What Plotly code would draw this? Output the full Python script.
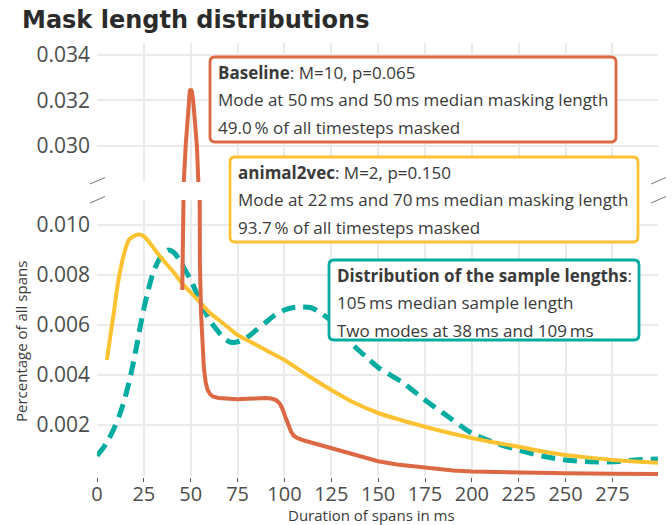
import plotly.graph_objects as go

# ---- data: share of spans (y) per span duration in ms (x) ----
baseline_ms = [45.5, 45.6, 46.0, 46.3, 47.3, 48.2, 49.0, 49.5, 50.0, 50.6, 51.3, 52.3, 53.3, 54.1,
               54.4, 54.6, 54.9, 55.5, 56.2, 57.0, 58.0, 59.0, 60.5, 62, 65, 70, 75, 80, 85, 90,
               93, 95.5, 97.5, 99, 100.5, 102, 103.5, 105, 107, 110, 115, 120, 125, 130, 140,
               150, 160, 175, 190, 200, 225, 250, 275, 299.3]
baseline_pct = [0.0074, 0.0110, 0.0200, 0.0284, 0.0300, 0.0310, 0.0320, 0.0324, 0.0325, 0.0324,
                0.0320, 0.0310, 0.0300, 0.0284, 0.0200, 0.0110, 0.0085, 0.0065, 0.0052, 0.0043,
                0.0037, 0.0034, 0.00322, 0.00313, 0.00308, 0.00305, 0.00303, 0.00305, 0.00307,
                0.00308, 0.00306, 0.00300, 0.00286, 0.00264, 0.00232, 0.00200, 0.00174, 0.00157,
                0.00147, 0.00139, 0.00128, 0.00118, 0.00107, 0.00096, 0.00075, 0.00055, 0.00042,
                0.00028, 0.00018, 0.00014, 0.00009, 0.00007, 0.00005, 0.00004]

a2v_ms = [5.3, 7, 9, 11, 13, 15, 17, 19.5, 22, 25, 29, 33, 37, 41, 45, 50, 55, 60, 65, 70, 75,
          80, 90, 100, 110, 125, 137, 150, 162, 175, 187, 200, 212, 225, 237, 250, 262, 275,
          287, 299.3]
a2v_pct = [0.0046, 0.0055, 0.0065, 0.0076, 0.0084, 0.0090, 0.0094, 0.00955, 0.00962, 0.00955,
           0.0092, 0.0088, 0.00845, 0.0081, 0.0077, 0.0073, 0.0069, 0.0065, 0.0062, 0.0059,
           0.0056, 0.0054, 0.0050, 0.0046, 0.0041, 0.0034, 0.0029, 0.00248, 0.0022, 0.00193,
           0.0017, 0.00148, 0.0013, 0.00113, 0.00095, 0.0008, 0.0007, 0.0006, 0.00054, 0.00049]

sample_ms = [0, 3, 6, 9, 12, 15, 18, 21, 24, 27, 30, 33, 36, 38, 41, 44, 47, 50, 53, 56, 60, 64,
             68, 72, 76, 80, 85, 90, 95, 100, 105, 109, 114, 119, 126, 132, 138, 144, 150, 163,
             175, 188, 200, 213, 225, 238, 250, 263, 275, 287, 299.3]
sample_pct = [0.00078, 0.00105, 0.0014, 0.00185, 0.0024, 0.0031, 0.0040, 0.0051, 0.0063, 0.0073,
              0.0081, 0.0086, 0.0089, 0.0090, 0.0089, 0.0086, 0.0082, 0.0078, 0.0073, 0.0068,
              0.0062, 0.0058, 0.00545, 0.0053, 0.00535, 0.0055, 0.0058, 0.0061, 0.0064, 0.0066,
              0.0067, 0.00672, 0.0067, 0.0065, 0.0061, 0.0056, 0.0051, 0.0047, 0.0043, 0.0037,
              0.0030, 0.0023, 0.00167, 0.00127, 0.0010, 0.00075, 0.0006, 0.00053, 0.00053,
              0.0006, 0.00064]

x_ticks = [0, 25, 50, 75, 100, 125, 150, 175, 200, 225, 250, 275]
y_ticks_low = [0.002, 0.004, 0.006, 0.008, 0.010]
y_ticks_high = [0.030, 0.032, 0.034]

ORANGE = "#dd6844"
YELLOW = "#fcc232"
TEAL = "#00aba0"
FONT = "Open Sans"
TXT = "#3a3a3a"

# ---- layout geometry (pixels) ----
W, H = 672, 525
L, R, T, B = 97, 14, 43, 48
PW, PH = W - L - R, H - T - B


def px(xp):
    return (xp - L) / PW


def py(yp):
    return (H - B - yp) / PH


fig = go.Figure()

series = [
    (sample_ms, sample_pct, TEAL, 5, "14px,8px", "spline"),
    (a2v_ms, a2v_pct, YELLOW, 4, "solid", "spline"),
    (baseline_ms, baseline_pct, ORANGE, 4, "solid", "linear"),
]
# every series is drawn in both halves of the broken y axis
for xa, ya in (("x", "y"), ("x2", "y2")):
    for xs, ys, col, w, dash, shape in series:
        fig.add_trace(go.Scatter(
            x=xs, y=ys, mode="lines", xaxis=xa, yaxis=ya, showlegend=False,
            line=dict(color=col, width=w, dash=dash, shape=shape, smoothing=0.8),
            hoverinfo="skip"))

grid = dict(showgrid=True, gridcolor="#ebebeb", gridwidth=1.8, zeroline=False, showline=False)
tickfont = dict(family=FONT, size=21, color="#4d4d4d")

fig.update_layout(
    width=W, height=H,
    margin=dict(l=L, r=R, t=T, b=B),
    paper_bgcolor="white", plot_bgcolor="white",
    font=dict(family=FONT, color=TXT),
    title=dict(text="<b>Mask length distributions</b>",
               font=dict(family="DejaVu Sans", size=24, color="#2b2b2b"),
               xref="container", x=22 / W, xanchor="left", yref="container", y=1 - 20 / H,
               yanchor="middle"),
    xaxis=dict(domain=[0, 1], anchor="y", range=[0, 299.3], tickvals=x_ticks, ticks="outside",
               ticklen=4, tickwidth=1, tickcolor="#555", tickfont=dict(tickfont, size=20),
               ticklabelstandoff=-5, **grid),
    yaxis=dict(domain=[0, py(200)], anchor="x", range=[-0.00008, 0.011], tickvals=y_ticks_low,
               tickformat=".3f", tickfont=tickfont, ticklabelstandoff=6, **grid),
    xaxis2=dict(domain=[0, 1], anchor="y2", matches="x", range=[0, 299.3], tickvals=x_ticks,
                showticklabels=False, **grid),
    yaxis2=dict(domain=[py(182), 1], anchor="x2", range=[0.02842, 0.03452], tickvals=y_ticks_high,
                tickformat=".3f", tickfont=tickfont, ticklabelstandoff=6, **grid),
)

# axis titles
fig.add_annotation(text="Duration of spans in ms", xref="paper", yref="paper",
                   x=px(371), y=py(515), xanchor="center", yanchor="middle", showarrow=False,
                   font=dict(family=FONT, size=15, color=TXT))
fig.add_annotation(text="Percentage of all spans", xref="paper", yref="paper",
                   x=px(21), y=py(342), xanchor="center", yanchor="middle", showarrow=False,
                   textangle=-90, font=dict(family=FONT, size=15, color=TXT))

# break marks on both sides of the gap
for x0, x1 in ((90, 105), (651, 666)):
    for yb in (184, 203):
        fig.add_shape(type="line", xref="paper", yref="paper",
                      x0=px(x0), y0=py(yb), x1=px(x1), y1=py(yb - 6.5),
                      line=dict(color="#777", width=1))


def rounded_box(x0, y0, x1, y1, color, r=5):
    rx, ry = r / PW, r / PH
    a, b, c, d = px(x0), py(y1), px(x1), py(y0)  # left, bottom, right, top in paper units
    path = (f"M{a + rx},{b} L{c - rx},{b} Q{c},{b} {c},{b + ry} L{c},{d - ry} Q{c},{d} {c - rx},{d} "
            f"L{a + rx},{d} Q{a},{d} {a},{d - ry} L{a},{b + ry} Q{a},{b} {a + rx},{b} Z")
    fig.add_shape(type="path", path=path, xref="paper", yref="paper", layer="above",
                  fillcolor="white", line=dict(color=color, width=2.8))


boxes = [
    (210, 57, 616, 142, ORANGE, ["<b>Baseline</b>: M=10, p=0.065",
                                 "Mode at 50\u2009ms and 50\u2009ms median masking length",
                                 "49.0\u2009% of all timesteps masked"]),
    (230, 157, 638, 242, YELLOW, ["<b>animal2vec</b>: M=2, p=0.150",
                                  "Mode at 22\u2009ms and 70\u2009ms median masking length",
                                  "93.7\u2009% of all timesteps masked"]),
    (329, 260, 639, 340, TEAL, ["<b>Distribution of the sample lengths</b>:",
                                "105\u2009ms median sample length",
                                "Two modes at 38\u2009ms and 109\u2009ms"]),
]
for x0, y0, x1, y1, col, lines in boxes:
    rounded_box(x0, y0, x1, y1, col)
    for i, line in enumerate(lines):
        fig.add_annotation(text=line, xref="paper", yref="paper", x=px(x0 + 6),
                           y=py(y0 + 15 + 27.5 * i), xanchor="left", yanchor="middle",
                           showarrow=False, font=dict(family=FONT, size=17, color=TXT))

fig.write_html("out.html")
